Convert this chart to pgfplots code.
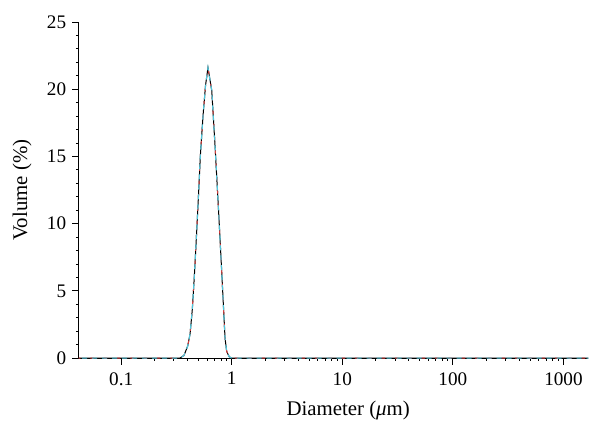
\documentclass[border=0pt]{standalone}
\usepackage{fontspec}
\setmainfont{Liberation Serif}
\usepackage{pgfplots}
\pgfplotsset{compat=1.18}
\definecolor{cyanline}{RGB}{80,196,218}
\definecolor{redline}{RGB}{214,60,60}
\begin{document}
\begin{tikzpicture}
\path[use as bounding box] (-47.2pt,-37.8pt) rectangle (306.1pt,214.8pt);
\begin{axis}[
  scale only axis,
  width=305.7pt, height=201.6pt,
  at={(0,0)}, anchor=south west,
  xmode=log,
  xmin=0.0413, xmax=1680,
  ymin=0, ymax=25,
  axis x line*=bottom, axis y line*=left,
  axis line style={-, line width=0.6pt},
  tick align=outside,
  major tick length=4pt, minor tick length=1.7pt,
  tick style={black, line width=0.5pt},
  xtick={0.1,1,10,100,1000},
  xticklabels={0.1,1,10,100,1000},
  ytick={0,5,10,15,20,25},
  minor y tick num=4,
  /pgf/number format/assume math mode=true,
  ticklabel style={font=\fontsize{11.5}{13}\selectfont},
  label style={font=\fontsize{12.5}{15}\selectfont},
  xlabel={Diameter (\textit{μ}m)},
  ylabel={Volume (\%)},
  xlabel style={at={(axis description cs:0.5288,-0.1548)}, anchor=center},
  ylabel style={at={(axis description cs:-0.1112,0.5)}, anchor=center},
  xticklabel style={yshift=-1pt},
  clip=false,
]
\addplot[black, line width=0.6pt] coordinates {
(0.0413,0) (0.30,0) (0.34,0) (0.37,0.2) (0.40,0.9) (0.42,1.8) (0.44,3.6) (0.46,6.2)
(0.48,9.1) (0.50,12.0) (0.52,15.0) (0.55,18.0) (0.58,20.3) (0.61,21.6) (0.66,19.9)
(0.71,15.5) (0.76,11.0) (0.81,6.6) (0.84,4.0) (0.87,1.5) (0.90,0.5) (0.95,0.1) (1.0,0) (1680,0)
};
\addplot[redline, line width=0.6pt, dash pattern=on 2pt off 6pt, dash phase=1pt] coordinates {
(0.0413,0) (0.30,0) (0.34,0) (0.37,0.2) (0.40,0.9) (0.42,1.8) (0.44,3.6) (0.46,6.2)
(0.48,9.1) (0.50,12.0) (0.52,15.0) (0.55,18.0) (0.58,20.3) (0.61,21.6) (0.66,19.9)
(0.71,15.5) (0.76,11.0) (0.81,6.6) (0.84,4.0) (0.87,1.5) (0.90,0.5) (0.95,0.1) (1.0,0) (1680,0)
};
\addplot[cyanline, line width=0.7pt, dash pattern=on 3pt off 3pt, dash phase=4pt] coordinates {
(0.0413,0) (0.30,0) (0.34,0) (0.37,0.2) (0.40,0.9) (0.42,1.8) (0.44,3.6) (0.46,6.2)
(0.48,9.1) (0.50,12.0) (0.52,15.0) (0.55,18.0) (0.58,20.3) (0.61,21.6) (0.66,19.9)
(0.71,15.5) (0.76,11.0) (0.81,6.6) (0.84,4.0) (0.87,1.5) (0.90,0.5) (0.95,0.1) (1.0,0) (1680,0)
};
\end{axis}
\end{tikzpicture}
\end{document}
